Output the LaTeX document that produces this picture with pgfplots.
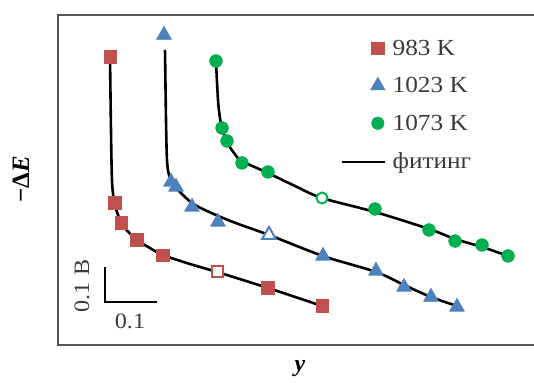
\documentclass[border=0pt]{standalone}
\usepackage{pgfplots}
\pgfplotsset{compat=1.18}
\usepackage{fontspec}
\setmainfont{Liberation Serif}
\newfontfamily\legfont{Liberation Serif}[FakeStretch=1.1]
\definecolor{cred}{HTML}{C0504D}
\definecolor{cblue}{HTML}{4F81BD}
\definecolor{cgreen}{HTML}{00B050}
\definecolor{frame}{HTML}{555555}
\definecolor{txt}{HTML}{3A3A3A}
\begin{document}
\begin{tikzpicture}
\begin{axis}[
  scale only axis, width=487pt, height=330pt,
  xmin=0, xmax=0.9365, ymin=0, ymax=0.9429,
  xtick=\empty, ytick=\empty,
  axis line style={draw=frame, line width=2pt},
  clip=false,
  legend style={at={(axis cs:0.5900,0.881)}, anchor=north west, draw=none, fill=none,
    font=\legfont\fontsize{23}{27}\selectfont\color{txt}, row sep=18.7pt, column sep=4pt,
    nodes={inner sep=1pt}},
  legend cell align=left,
]
% 983 K
\addplot[only marks, mark=square*, mark size=6.3pt, color=cred] table {
x y
0.1000 0.8229
0.1096 0.4057
0.1212 0.3486
0.1519 0.3000
0.2019 0.2571
0.4038 0.1629
0.5077 0.1114
};
\addlegendentry{983 K}
% 1023 K
\addplot[only marks, mark=triangle*, mark size=8.5pt, color=cblue] table {
x y
0.2038 0.8857
0.2173 0.4657
0.2269 0.4514
0.2577 0.3943
0.3077 0.3514
0.5096 0.2543
0.6115 0.2114
0.6654 0.1657
0.7173 0.1371
0.7673 0.1086
};
\addlegendentry{1023 K}
% 1073 K
\addplot[only marks, mark=*, mark size=6.3pt, color=cgreen] table {
x y
0.3038 0.8114
0.3154 0.6200
0.3250 0.5829
0.3538 0.5200
0.4038 0.4943
0.6096 0.3886
0.7135 0.3286
0.7635 0.2971
0.8154 0.2857
0.8654 0.2543
};
\addlegendentry{1073 K}
% fits
\addplot[black, line width=2.6pt, smooth, tension=0.55,
  legend image code/.code={\draw[black, line width=2.6pt, overlay] (-27.5pt,-1pt) -- (15.5pt,-1pt); \path (0pt,0pt) (17pt,0pt);}] table {
x y
0.1000 0.8229
0.1019 0.6143
0.1038 0.4714
0.1077 0.4143
0.1154 0.3714
0.1288 0.3343
0.1519 0.3000
0.1769 0.2771
0.2019 0.2571
0.2538 0.2314
0.3058 0.2086
0.4038 0.1629
0.5077 0.1114
};
\addlegendentry{фитинг}
\addplot[black, line width=2.6pt, smooth, tension=0.55, forget plot] table {
x y
0.2058 0.8429
0.2077 0.6429
0.2096 0.5286
0.2135 0.4857
0.2212 0.4600
0.2346 0.4371
0.2577 0.4057
0.2865 0.3829
0.3365 0.3514
0.4058 0.3143
0.5096 0.2543
0.6115 0.2086
0.6654 0.1714
0.7173 0.1371
0.7673 0.1114
};
\addplot[black, line width=2.6pt, smooth, tension=0.55, forget plot] table {
x y
0.3038 0.8114
0.3077 0.7000
0.3115 0.6486
0.3154 0.6200
0.3250 0.5800
0.3385 0.5486
0.3538 0.5257
0.4038 0.4914
0.4558 0.4543
0.5077 0.4200
0.6096 0.3800
0.7135 0.3314
0.7635 0.3029
0.8154 0.2800
0.8654 0.2543
};
% redraw markers over the fits
\addplot[only marks, mark=square*, mark size=6.3pt, color=cred, forget plot] table {
x y
0.1000 0.8229
0.1096 0.4057
0.1212 0.3486
0.1519 0.3000
0.2019 0.2571
0.4038 0.1629
0.5077 0.1114
};
\addplot[only marks, mark=triangle*, mark size=8.5pt, color=cblue, forget plot] table {
x y
0.2038 0.8857
0.2173 0.4657
0.2269 0.4514
0.2577 0.3943
0.3077 0.3514
0.5096 0.2543
0.6115 0.2114
0.6654 0.1657
0.7173 0.1371
0.7673 0.1086
};
\addplot[only marks, mark=*, mark size=6.3pt, color=cgreen, forget plot] table {
x y
0.3038 0.8114
0.3154 0.6200
0.3250 0.5829
0.3538 0.5200
0.4038 0.4943
0.6096 0.3886
0.7135 0.3286
0.7635 0.2971
0.8154 0.2857
0.8654 0.2543
};
% open markers
\addplot[only marks, mark=square*, mark size=5.5pt, mark options={draw=cred, fill=white, line width=2pt}, forget plot] table {
x y
0.3058 0.2086
};
\addplot[only marks, mark=triangle*, mark size=8pt, mark options={draw=cblue, fill=white, line width=2pt}, forget plot] table {
x y
0.4058 0.3143
};
\addplot[only marks, mark=*, mark size=5.5pt, mark options={draw=cgreen, fill=white, line width=2pt}, forget plot] table {
x y
0.5077 0.4200
};
% scale bar
\draw[black, line width=2pt] (axis cs:0.0904,0.2229) -- (axis cs:0.0904,0.1229) -- (axis cs:0.1904,0.1229);
\node[rotate=90, font=\legfont\fontsize{22}{26}\selectfont, text=txt, inner sep=0pt] at (axis cs:0.0462,0.1686) {0.1 В};
\node[font=\legfont\fontsize{22}{26}\selectfont, text=txt, inner sep=0pt] at (axis cs:0.1385,0.0686) {0.1};
% axis labels
\node[rotate=90, font=\fontsize{25}{30}\selectfont\bfseries, inner sep=0pt] at (axis cs:-0.0712,0.4743) {−Δ\textit{E}};
\node[anchor=north, font=\fontsize{24}{29}\selectfont\bfseries\itshape, inner sep=0pt] at (axis cs:0.4654,-0.0429) {y};
\coordinate (BL) at (axis cs:-0.11154,-0.10857);
\coordinate (TR) at (axis cs:0.91538,0.98571);
\end{axis}
\pgfresetboundingbox
\useasboundingbox (BL) rectangle (TR);
\end{tikzpicture}
\end{document}
